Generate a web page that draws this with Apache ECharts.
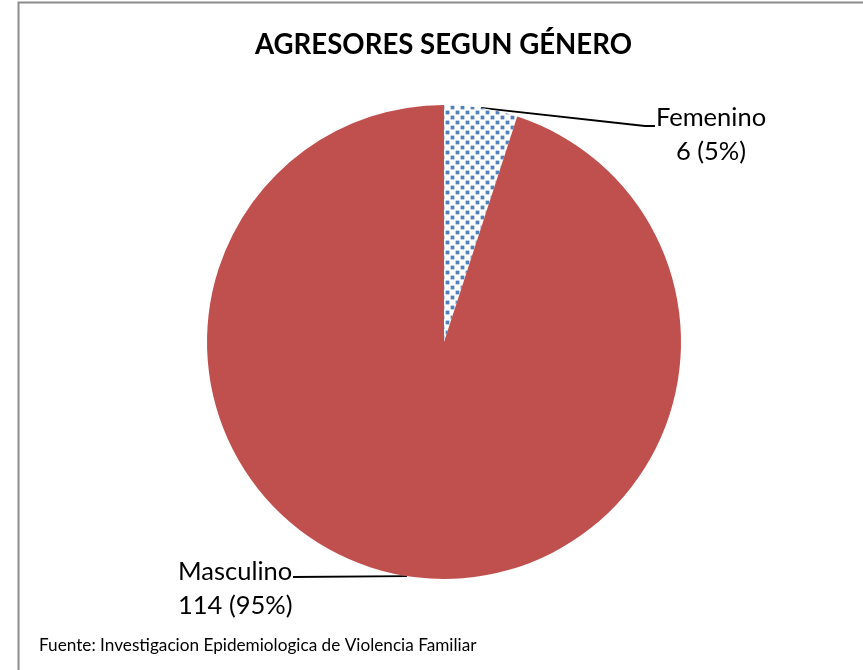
<!DOCTYPE html>
<html>
<head>
<meta charset="utf-8">
<script src="https://cdn.jsdelivr.net/npm/echarts@6/dist/echarts.min.js"></script>
<style>
  html, body { margin: 0; padding: 0; background: #fff; }
  #chart { width: 863px; height: 670px; }
</style>
</head>
<body>
<div id="chart"></div>
<script>
// datos del grafico
const generos = ['Femenino', 'Masculino'];
const agresores = [6, 114];
const titulo = 'AGRESORES SEGUN GÉNERO';
const fuente = 'Fuente: Investigacion Epidemiologica de Violencia Familiar';

const chart = echarts.init(document.getElementById('chart'));

const centro = [444, 342];
const radio = 237;

// posicion de las etiquetas (como en el original)
const labelPos = [
  { x: 711, y: 135, align: 'center', end: [[645, 126], [655, 126]] },
  { x: 178, y: 589, align: 'left', end: [[293, 577]] }
];

// punto medio del borde de cada sector
const total = agresores.reduce((a, b) => a + b, 0);
const puntoBorde = (i) => {
  const antes = agresores.slice(0, i).reduce((a, b) => a + b, 0);
  const ang = (antes + agresores[i] / 2) / total * 2 * Math.PI;
  return [centro[0] + radio * Math.sin(ang), centro[1] - radio * Math.cos(ang)];
};

const pieData = generos.map((g, i) => ({
  name: g,
  value: agresores[i],
  itemStyle: i === 0
    ? {
        color: '#ffffff',
        decal: {
          symbol: 'rect',
          symbolSize: 0.75,
          color: '#4f81bd',
          dashArrayX: [[5, 5], [0, 5, 5, 0]],
          dashArrayY: [5, 0]
        }
      }
    : { color: '#c0504d' },
  label: { align: labelPos[i].align }
}));

chart.setOption({
  animation: false,
  title: {
    text: titulo,
    left: 250,
    top: 26,
    textStyle: { fontFamily: 'Lato', fontWeight: 'bold', fontSize: 27.6, color: '#000' }
  },
  graphic: [
    {
      type: 'rect',
      shape: { x: 18.5, y: 2.5, width: 900, height: 720 },
      style: { fill: null, stroke: '#8c8c8c', lineWidth: 2 }
    },
    {
      type: 'text',
      left: 39,
      top: 637,
      style: { text: fuente, fontFamily: 'Lato', fontSize: 17.2, fill: '#000' }
    }
  ],
  series: [
    {
      type: 'pie',
      center: centro,
      radius: radio,
      startAngle: 90,
      clockwise: true,
      data: pieData,
      label: {
        show: true,
        position: 'outside',
        formatter: '{b}\n{c} ({d}%)',
        fontFamily: 'Lato',
        fontSize: 25.5,
        lineHeight: 34,
        color: '#000'
      },
      labelLine: {
        show: true,
        lineStyle: { color: '#000', width: 1.8 }
      },
      labelLayout: (params) => {
        const p = labelPos[params.dataIndex];
        return {
          x: p.x, y: p.y, verticalAlign: 'middle', align: p.align,
          labelLinePoints: [puntoBorde(params.dataIndex)].concat(p.end)
        };
      }
    }
  ]
});
</script>
</body>
</html>
